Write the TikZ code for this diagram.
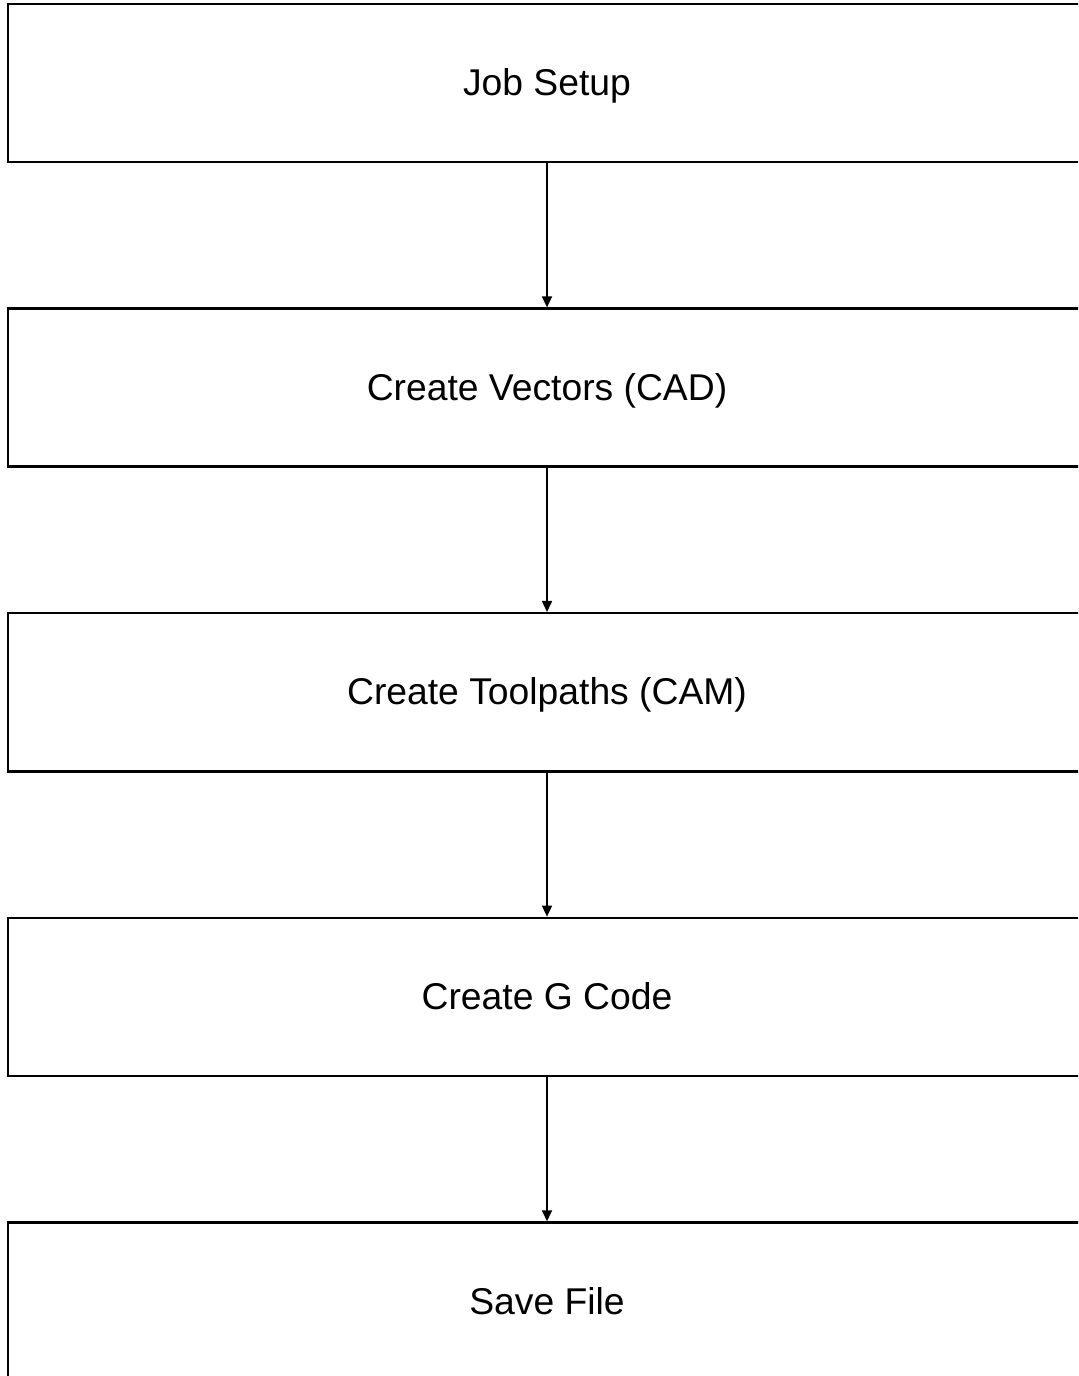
\documentclass[tikz,border=0pt]{standalone}
\usepackage{fontspec}
\setmainfont{Liberation Sans}
\usetikzlibrary{positioning,arrows.meta}

\begin{document}
\begin{tikzpicture}[x=0.01cm,y=-0.01cm,
  stepbox/.style={draw,line width=0.7pt,minimum width=10.77cm,minimum height=1.58cm,inner sep=0pt,text height=0.72em,text depth=0pt,font=\fontsize{10.6}{12}\selectfont},
  flow/.style={-{Triangle[length=1.1mm,width=1mm]},line width=0.45pt}]
\useasboundingbox (0,0) rectangle (1078,1376);
\clip (0,0) rectangle (1078,1376);

\node[stepbox] (setup) at (547,83) {Job Setup};
\node[stepbox,below=1.44cm of setup] (cad) {Create Vectors (CAD)};
\node[stepbox,below=1.44cm of cad] (cam) {Create Toolpaths (CAM)};
\node[stepbox,below=1.44cm of cam] (gcode) {Create G Code};
\node[stepbox,below=1.44cm of gcode] (save) {Save File};

\draw[flow] (setup) -- (cad);
\draw[flow] (cad) -- (cam);
\draw[flow] (cam) -- (gcode);
\draw[flow] (gcode) -- (save);

\end{tikzpicture}
\end{document}
